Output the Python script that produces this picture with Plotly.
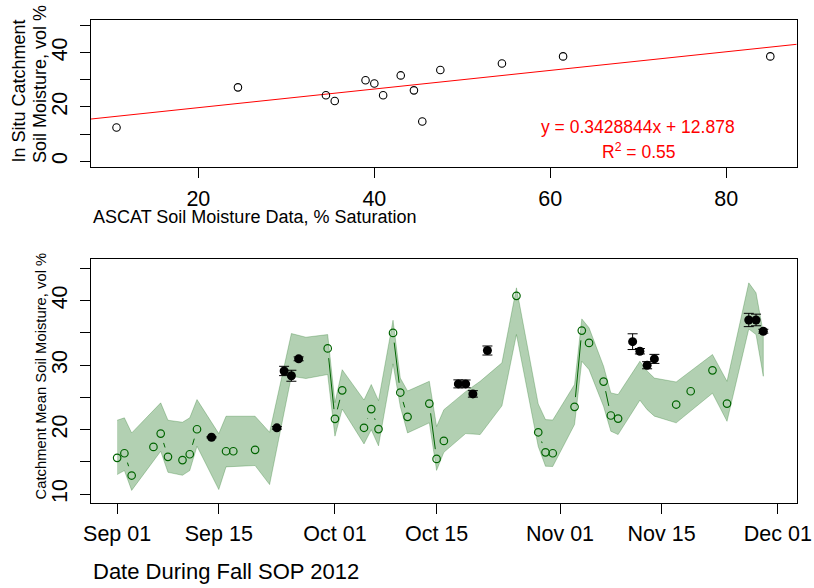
import math
import pandas as pd
import plotly.graph_objects as go

# ---------------- Top panel data (ASCAT vs in situ) ----------------
ascat_x = [10.7, 24.5, 34.5, 35.5, 39.0, 40.0, 41.0, 43.0, 44.5, 45.45, 47.5, 54.5, 61.45, 85.0]
insitu_y = [12.45, 27.2, 24.3, 22.2, 29.8, 28.6, 24.3, 31.6, 26.1, 14.65, 33.6, 36.0, 38.6, 38.6]
fit_slope = 0.3428844
fit_intercept = 12.878
fit_label = "y = 0.3428844x + 12.878"
r2_label = "R<sup>2</sup> = 0.55"
top_xticks = [20, 40, 60, 80]
top_ylabels = [0, 20, 40]
top_yminor = [10, 30, 50]

# ---------------- Bottom panel data ----------------
green_dates = ["2012-09-01", "2012-09-02", "2012-09-03", "2012-09-06", "2012-09-07", "2012-09-08",
               "2012-09-10", "2012-09-11", "2012-09-12", "2012-09-16", "2012-09-17", "2012-09-20",
               "2012-09-30", "2012-10-01", "2012-10-02", "2012-10-05", "2012-10-06", "2012-10-07",
               "2012-10-09", "2012-10-10", "2012-10-11", "2012-10-14", "2012-10-15", "2012-10-16",
               "2012-10-26", "2012-10-29", "2012-10-30", "2012-10-31", "2012-11-03", "2012-11-04",
               "2012-11-05", "2012-11-07", "2012-11-08", "2012-11-09", "2012-11-17", "2012-11-19",
               "2012-11-22", "2012-11-24"]
green_vals = [15.64, 16.35, 12.9, 17.34, 19.4, 15.8,
              15.3, 16.2, 20.07, 16.66, 16.66, 16.88,
              32.6, 21.68, 26.1, 20.3, 23.2, 20.1,
              35.0, 25.76, 22.0, 24.05, 15.48, 18.27,
              40.74, 19.6, 16.5, 16.35, 23.54, 35.36,
              33.45, 27.46, 22.2, 21.73, 23.9, 25.96,
              29.2, 24.05]

band_dates = ["2012-09-01", "2012-09-02", "2012-09-03", "2012-09-07", "2012-09-08", "2012-09-10",
              "2012-09-11", "2012-09-12", "2012-09-15", "2012-09-16", "2012-09-20", "2012-09-22",
              "2012-09-25", "2012-09-27", "2012-09-30", "2012-10-01", "2012-10-02", "2012-10-05",
              "2012-10-06", "2012-10-07", "2012-10-09", "2012-10-10", "2012-10-11", "2012-10-14",
              "2012-10-15", "2012-10-16", "2012-10-19", "2012-10-21", "2012-10-24", "2012-10-26",
              "2012-10-29", "2012-10-30", "2012-10-31", "2012-11-03", "2012-11-04", "2012-11-05",
              "2012-11-07", "2012-11-08", "2012-11-09", "2012-11-12", "2012-11-13", "2012-11-14",
              "2012-11-17", "2012-11-22", "2012-11-24", "2012-11-27", "2012-11-28", "2012-11-29"]
band_upper = [21.47, 21.84, 19.5, 24.16, 21.47, 21.16,
              21.84, 24.67, 19.4, 22.09, 22.09, 19.6,
              34.9, 34.33, 34.74, 24.2, 29.3, 24.6,
              27.0, 24.5, 36.96, 28.0, 26.0, 27.5,
              20.5, 23.1, 25.9, 27.5, 30.36, 41.98,
              24.0, 21.57, 21.5, 27.0, 37.17, 35.78,
              29.83, 25.7, 25.45, 30.6, 29.1, 28.0,
              27.4, 31.65, 27.5, 42.75, 41.2, 35.0]
band_lower = [13.05, 13.67, 10.6, 16.66, 13.4, 12.94,
              13.67, 17.44, 10.73, 14.24, 14.45, 11.5,
              28.28, 27.93, 28.55, 19.0, 23.2, 17.8,
              20.0, 17.5, 30.2, 23.6, 19.5, 21.06,
              13.7, 16.5, 19.4, 19.25, 23.7, 34.74,
              17.4, 14.34, 14.3, 20.8, 30.6, 29.3,
              23.6, 19.76, 19.25, 24.57, 23.1, 22.1,
              21.06, 25.65, 21.3, 35.6, 34.74, 28.28]

insitu_dates = ["2012-09-14", "2012-09-23", "2012-09-24", "2012-09-25", "2012-09-26",
                "2012-10-18", "2012-10-19", "2012-10-20", "2012-10-22",
                "2012-11-11", "2012-11-12", "2012-11-13", "2012-11-14",
                "2012-11-27", "2012-11-28", "2012-11-29"]
insitu_vals = [18.83, 20.29, 29.1, 28.36, 30.98,
               27.1, 27.1, 25.55, 32.27,
               33.64, 32.16, 29.99, 30.97,
               37.0, 37.0, 35.26]
insitu_err = [0.1, 0.2, 0.72, 0.85, 0.3,
              0.62, 0.6, 0.5, 0.7,
              1.22, 0.42, 0.55, 0.7,
              1.03, 0.9, 0.3]

date_tickvals = ["2012-09-01", "2012-09-15", "2012-10-01", "2012-10-15", "2012-11-01", "2012-11-15", "2012-12-01"]
date_ticktext = ["Sep 01", "Sep 15", "Oct 01", "Oct 15", "Nov 01", "Nov 15", "Dec 01"]
bot_ylabels = [10, 20, 30, 40]
bot_yminor = [15, 25, 35, 45]

# ---------------- Geometry ----------------
W, H = 814, 588
L_px, R_px = 91.0, 796.7
top_t, top_b = 20.0, 166.7
bot_t, bot_b = 259.3, 503.3
FONT = "Liberation Sans, Arial, Helvetica, sans-serif"

top_xrange = [7.8, 88.0]
top_yrange = [-2, 52]
start = pd.Timestamp("2012-09-01")
bot_xrange = [start - pd.Timedelta(days=3.6), start + pd.Timedelta(days=93.6)]
bot_yrange = [8.6, 46.4]

fig = go.Figure()

# ---- top panel ----
fit_x = top_xrange
fit_y = [fit_slope * v + fit_intercept for v in fit_x]
fig.add_trace(go.Scatter(x=fit_x, y=fit_y, mode="lines", line=dict(color="red", width=1),
                         xaxis="x", yaxis="y", hoverinfo="skip"))
fig.add_trace(go.Scatter(x=ascat_x, y=insitu_y, mode="markers",
                         marker=dict(symbol="circle-open", size=7.5, color="black", line=dict(width=1.1)),
                         xaxis="x", yaxis="y"))

# ---- bottom panel ----
bd = list(pd.to_datetime(band_dates))
fig.add_trace(go.Scatter(x=bd + bd[::-1], y=band_upper + band_lower[::-1], mode="lines",
                         fill="toself", fillcolor="rgba(0,100,0,0.3)",
                         line=dict(color="rgba(0,100,0,0.25)", width=1),
                         xaxis="x2", yaxis="y2", hoverinfo="skip"))

# type="b" style connecting segments (only between consecutive days, gapped at points)
px_per_day = (R_px - L_px) / ((bot_xrange[1] - bot_xrange[0]) / pd.Timedelta(days=1))
px_per_unit = (bot_b - bot_t) / (bot_yrange[1] - bot_yrange[0])
gap = 9.8
gd = list(pd.to_datetime(green_dates))
seg_x, seg_y = [], []
for i in range(len(gd) - 1):
    dt = gd[i + 1] - gd[i]
    dd = dt / pd.Timedelta(days=1)
    if dd != 1:
        continue
    dv = green_vals[i + 1] - green_vals[i]
    dist = math.hypot(dd * px_per_day, dv * px_per_unit)
    if dist <= 2 * gap:
        continue
    f = gap / dist
    seg_x += [gd[i] + dt * f, gd[i] + dt * (1 - f), None]
    seg_y += [green_vals[i] + dv * f, green_vals[i] + dv * (1 - f), None]
fig.add_trace(go.Scatter(x=seg_x, y=seg_y, mode="lines", line=dict(color="#006400", width=1),
                         xaxis="x2", yaxis="y2", hoverinfo="skip"))

fig.add_trace(go.Scatter(x=gd, y=green_vals, mode="markers",
                         marker=dict(symbol="circle-open", size=7.5, color="#006400", line=dict(width=1.2)),
                         xaxis="x2", yaxis="y2"))

fig.add_trace(go.Scatter(x=pd.to_datetime(insitu_dates), y=insitu_vals, mode="markers",
                         marker=dict(symbol="circle", size=9, color="black"),
                         error_y=dict(type="data", array=insitu_err, color="black", thickness=1, width=5),
                         xaxis="x2", yaxis="y2"))

axis_common = dict(showgrid=False, zeroline=False, showline=True, mirror=True, linecolor="black",
                   linewidth=1, ticks="outside", ticklen=10, tickcolor="black", tickwidth=1,
                   automargin=False,
                   tickfont=dict(family=FONT, size=21.5, color="black"))
minor_common = dict(ticks="outside", ticklen=10, tickcolor="black", tickwidth=1, showgrid=False)

fig.update_layout(
    width=W, height=H, margin=dict(l=0, r=0, t=0, b=0, autoexpand=False),
    paper_bgcolor="white", plot_bgcolor="white", showlegend=False,
    xaxis=dict(domain=[L_px / W, R_px / W], range=top_xrange, tickmode="array", tickvals=top_xticks,
               anchor="y", ticklabelstandoff=2, **axis_common),
    yaxis=dict(domain=[1 - top_b / H, 1 - top_t / H], range=top_yrange, tickmode="array",
               tickvals=top_ylabels, tickangle=-90, anchor="x",
               minor=dict(tickvals=top_yminor, **minor_common),
               ticklabelstandoff=4, **axis_common),
    xaxis2=dict(domain=[L_px / W, R_px / W], range=bot_xrange, type="date", tickmode="array",
                tickvals=date_tickvals, ticktext=date_ticktext, anchor="y2", ticklabelstandoff=1,
                **axis_common),
    yaxis2=dict(domain=[1 - bot_b / H, 1 - bot_t / H], range=bot_yrange, tickmode="array",
                tickvals=bot_ylabels, tickangle=-90, anchor="x2",
                minor=dict(tickvals=bot_yminor, **minor_common),
                ticklabelstandoff=4, **axis_common),
)

annos = [
    dict(text=fit_label, x=638 / W, y=1 - 127 / H, font=dict(size=17.5, color="red")),
    dict(text=r2_label, x=638 / W, y=1 - 150.5 / H, font=dict(size=17.5, color="red")),
    dict(text="ASCAT Soil Moisture Data, % Saturation", x=L_px / W, y=1 - 216.7 / H, xanchor="left",
         font=dict(size=18, color="black")),
    dict(text="Date During Fall SOP 2012", x=L_px / W, y=1 - 571.7 / H, xanchor="left",
         font=dict(size=22, color="black")),
    dict(text="In Situ Catchment", x=19 / W, y=1 - 165 / H, yanchor="bottom", textangle=-90,
         font=dict(size=18, color="black")),
    dict(text="Soil Moisture, vol %", x=40 / W, y=1 - 165 / H, yanchor="bottom", textangle=-90,
         font=dict(size=18, color="black")),
    dict(text="Catchment Mean Soil Moisture, vol %", x=41 / W, y=1 - 502 / H, yanchor="bottom",
         textangle=-90, font=dict(size=14.8, color="black")),
]
for a in annos:
    a.setdefault("xanchor", "center")
    a.setdefault("yanchor", "middle")
    a.update(xref="paper", yref="paper", showarrow=False)
    a["font"]["family"] = FONT
fig.update_layout(annotations=annos)

fig.write_html("out.html")
